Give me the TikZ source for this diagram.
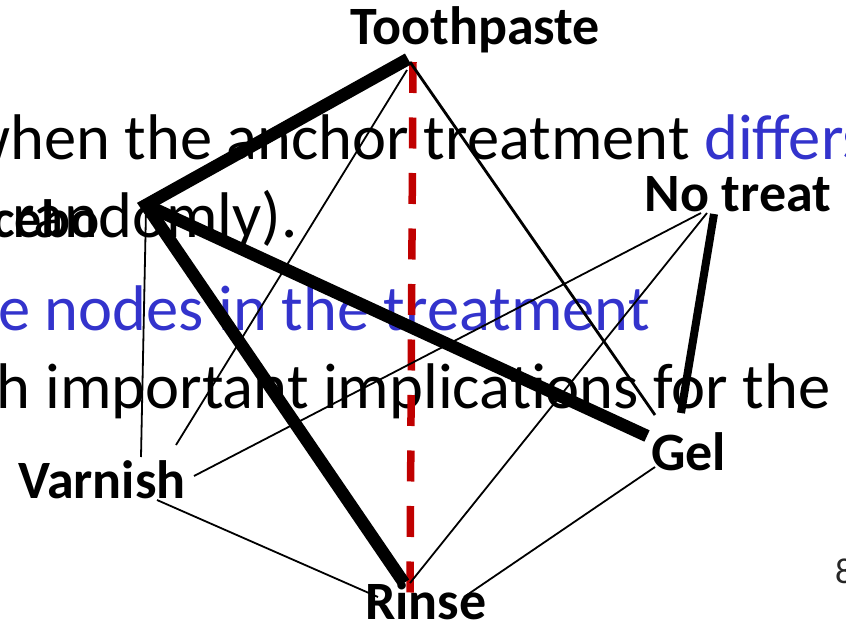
\documentclass[tikz,border=0pt]{standalone}
\usepackage{fontspec}
\setmainfont{Carlito}
\definecolor{bgblue}{RGB}{51,51,204}
\definecolor{dred}{RGB}{192,0,0}
\begin{document}
\begin{tikzpicture}[x=1pt,y=-1pt,
  lbl/.style={font=\fontsize{54}{54}\selectfont\bfseries, inner sep=0pt, anchor=base},
  bgtext/.style={font=\fontsize{64.5}{64.5}\selectfont, inner sep=0pt},
  heavy/.style={line width=12.5pt},
  light/.style={line width=1.8pt},
  redline/.style={dred, line width=7.5pt, dash pattern=on 31pt off 24.5pt}]
\useasboundingbox (0,0) rectangle (846,623);
\clip (0,0) rectangle (846,623);
% background slide text
\node[bgtext, anchor=base west] (l1) at (-36,160) {when the anchor treatment \textcolor{bgblue}{differs}};
\node[bgtext, anchor=base east] (l2) at (298,237) {randomly).};
\node[bgtext, anchor=base east, text=bgblue] (l3) at (650,330) {the nodes in the treatment};
\node[bgtext, anchor=base east] (l4) at (831,408) {with important implications for the};
\node[font=\fontsize{36}{36}\selectfont, inner sep=0pt, anchor=base west, text=black!85] (pg) at (835,583) {8};
% labels
\node[lbl] (toothpaste) at (475,45) {Toothpaste};
\node[lbl] (notreat) at (738,211) {No treat};
\node[lbl, anchor=base east] (placebo) at (100,237) {Placebo};
\node[lbl, anchor=base west] (varnish) at (18,498) {Varnish};
\node[lbl, anchor=base west] (gel) at (651,470) {Gel};
\node[lbl, anchor=base west] (rinse) at (365,619) {Rinse};
% vertices and edge ends
\coordinate (T) at (408,59);
\coordinate (P) at (146,205);
\coordinate (G) at (647,436);
\coordinate (R) at (404,583);
\coordinate (Ntop) at (714,214);
\coordinate (Nbot) at (681,413);
\coordinate (Tv) at (407,70);
\coordinate (Tg) at (410,62);
\coordinate (Vt) at (176,445);
\coordinate (Gt) at (655,415);
\coordinate (Pv) at (146,210);
\coordinate (Vp) at (141,457);
\coordinate (Nv) at (701,213);
\coordinate (Vn) at (194,476);
\coordinate (Nr) at (707,213);
\coordinate (Rn) at (410,583);
\coordinate (Vr) at (157,500);
\coordinate (Rv) at (378,597);
\coordinate (Gr) at (655,467);
\coordinate (Rg) at (464,597);
\coordinate (Tred) at (413,62);
\coordinate (Rred) at (410,594);
% red dashed edge
\draw[redline] (Tred) -- (Rred);
% thin edges
\draw[light] (Tv) -- (Vt);
\draw[line width=2.8pt] (Tg) -- (Gt);
\draw[light] (Pv) -- (Vp);
\draw[light] (Nv) -- (Vn);
\draw[light] (Nr) -- (Rn);
\draw[light] (Vr) -- (Rv);
\draw[light] (Gr) -- (Rg);
% heavy edges
\draw[heavy, line join=miter] (T) -- (P) -- (R);
\draw[heavy] (P) -- (G);
\draw[line width=8pt] (Ntop) -- (Nbot);
\end{tikzpicture}
\end{document}
